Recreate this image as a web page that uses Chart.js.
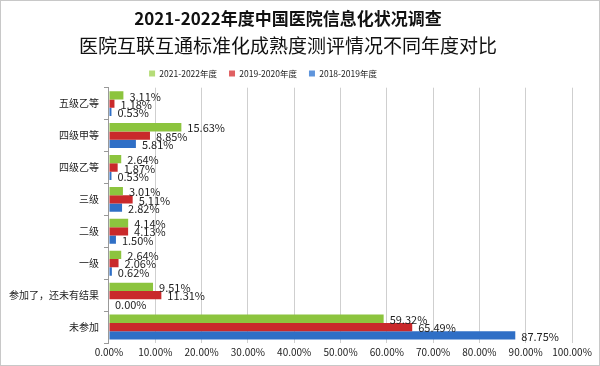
<!DOCTYPE html>
<html>
<head>
<meta charset="utf-8">
<script src="https://cdn.jsdelivr.net/npm/chart.js@4/dist/chart.umd.min.js"></script>
<style>
    html, body { margin: 0; padding: 0; background: #fff; }
    #wrap { width: 598px; height: 364px; border: 1px solid #c8c8c8; }
</style>
</head>
<body>
<div id="wrap"><canvas id="myChart" width="598" height="364"></canvas></div>
<script>
const categories = ['五级乙等', '四级甲等', '四级乙等', '三级', '二级', '一级', '参加了，还未有结果', '未参加'];
const series2122 = [3.11, 15.63, 2.64, 3.01, 4.14, 2.64, 9.51, 59.32];
const series1920 = [1.18, 8.85, 1.87, 5.11, 4.13, 2.06, 11.31, 65.49];
const series1819 = [0.53, 5.81, 0.53, 2.82, 1.50, 0.62, 0.00, 87.75];
const xTicks = [0, 10, 20, 30, 40, 50, 60, 70, 80, 90, 100];

const cjk = '"Noto Sans CJK SC", "Noto Sans", sans-serif';

// labels to the right of every bar
const valueLabels = {
    id: 'valueLabels',
    afterLayout(chart) {
        // legend sits a little left of centre in the original
        chart.legend.left -= 25;
        chart.legend.right -= 25;
    },
    afterDatasetsDraw(chart) {
        const ctx = chart.ctx;
        ctx.save();
        ctx.font = '11px ' + cjk;
        ctx.fillStyle = '#222';
        ctx.textBaseline = 'middle';
        chart.data.datasets.forEach((ds, i) => {
            const meta = chart.getDatasetMeta(i);
            meta.data.forEach((bar, j) => {
                ctx.fillText(ds.data[j].toFixed(2) + '%', bar.x + 6, bar.y + 1);
            });
        });
        ctx.restore();
    }
};

// slightly shaded bars, like the original
const shade = (base, light, dark) => (c) => {
    const bar = c.element;
    if (!bar || bar.y === undefined || !bar.height) return base;
    const g = c.chart.ctx.createLinearGradient(0, bar.y - bar.height / 2, 0, bar.y + bar.height / 2);
    g.addColorStop(0, light);
    g.addColorStop(0.45, base);
    g.addColorStop(1, dark);
    return g;
};

const makeSet = (label, data, color, light, dark) => ({
    label: label,
    data: data,
    backgroundColor: shade(color, light, dark),
    borderWidth: 0,
    categoryPercentage: 0.78,
    barPercentage: 1.0
});

const config = {
    type: 'bar',
    data: {
        labels: categories,
        datasets: [
            makeSet('2021-2022年度', series2122, '#8cc43e', '#b5dc78', '#6f9f2a'),
            makeSet('2019-2020年度', series1920, '#c9292b', '#e06062', '#9e1a1c'),
            makeSet('2018-2019年度', series1819, '#2f6fc6', '#5f95dc', '#22529a')
        ]
    },
    plugins: [valueLabels],
    options: {
        indexAxis: 'y',
        responsive: false,
        animation: false,
        layout: { padding: { left: 3, right: 27, top: 7, bottom: 4 } },
        plugins: {
            title: {
                display: true,
                text: '2021-2022年度中国医院信息化状况调查',
                color: '#111',
                font: { family: cjk, size: 17, weight: 'bold' },
                padding: { top: 0, bottom: 6 }
            },
            subtitle: {
                display: true,
                text: '医院互联互通标准化成熟度测评情况不同年度对比',
                color: '#111',
                font: { family: cjk, size: 19, weight: 'normal' },
                padding: { top: 0, bottom: 0 }
            },
            legend: {
                labels: {
                    boxWidth: 6,
                    boxHeight: 6,
                    padding: 12,
                    color: '#222',
                    font: { family: cjk, size: 8.5 }
                }
            },
            tooltip: { enabled: false }
        },
        scales: {
            x: {
                min: 0,
                max: 100,
                afterBuildTicks: (axis) => { axis.ticks = xTicks.map(v => ({ value: v })); },
                ticks: {
                    color: '#222',
                    font: { family: cjk, size: 10 },
                    callback: (v) => v.toFixed(2) + '%',
                    maxRotation: 0
                },
                grid: { color: '#cfcfcf', tickLength: 0 },
                border: { display: false }
            },
            y: {
                ticks: {
                    color: '#222',
                    font: { family: cjk, size: 10 },
                    padding: 5
                },
                grid: { offset: true, drawOnChartArea: false, tickLength: 5, color: '#999' },
                border: { display: true, color: '#999' }
            }
        }
    }
};

window.onload = () => {
    new Chart(document.getElementById('myChart'), config);
};
</script>
</body>
</html>
